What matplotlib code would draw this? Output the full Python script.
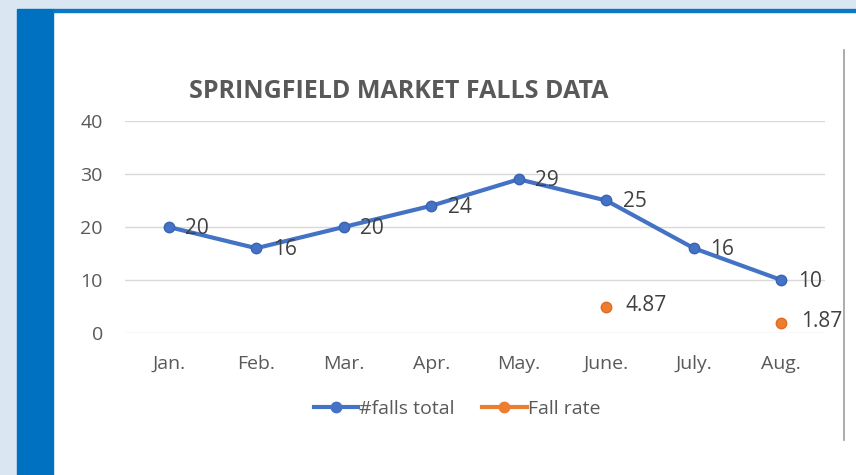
import matplotlib.pyplot as plt
from matplotlib.patches import Rectangle
from matplotlib.lines import Line2D

months = ['Jan.', 'Feb.', 'Mar.', 'Apr.', 'May.', 'June.', 'July.', 'Aug.']
falls_total = [20, 16, 20, 24, 29, 25, 16, 10]
fall_rate_months = ['June.', 'Aug.']
fall_rate = [4.87, 1.87]
y_ticks = [0, 10, 20, 30, 40]

blue = '#4472C4'
orange = '#ED7D31'
grey = '#595959'

plt.rcParams['font.family'] = ['Open Sans', 'DejaVu Sans']

W, H = 856, 475
fig = plt.figure(figsize=(W / 100, H / 100), dpi=100)
fig.patch.set_facecolor('#DAE6F1')

# slide background pieces (pixel boxes -> figure fraction)
def box(x0, y0, x1, y1, color):
    fig.add_artist(Rectangle((x0 / W, 1 - y1 / H), (x1 - x0) / W, (y1 - y0) / H,
                             transform=fig.transFigure, color=color, zorder=0))

box(53, 9, W, H, 'white')
box(17, 9, 53, H, '#0070C0')
box(53, 9, W, 11.5, '#0A78C6')
fig.add_artist(Line2D([844 / W, 844 / W], [1 - 50 / H, 1 - 440 / H],
                      transform=fig.transFigure, color='#A6A6A6', lw=1.3))

ax = fig.add_axes([125 / W, 1 - 333 / H, 700 / W, 212 / H])
ax.set_facecolor('none')

x = list(range(len(months)))
ax.plot(x, falls_total, color=blue, lw=3, marker='o', ms=7.5,
        markerfacecolor=blue, markeredgecolor='#3A64B0', label='#falls total', zorder=3)
xr = [months.index(m) for m in fall_rate_months]
ax.plot(xr, fall_rate, ls='none', marker='o', ms=7.5, color=orange,
        markeredgecolor='#E06C20', zorder=3)

for xi, v in zip(x, falls_total):
    ax.annotate(str(v), (xi, v), xytext=(12, -1), textcoords='offset points',
                va='center', ha='left', fontsize=15, color='#404040')
for xi, v in zip(xr, fall_rate):
    ax.annotate(f'{v:.2f}', (xi, v), xytext=(14, 1), textcoords='offset points',
                va='center', ha='left', fontsize=15, color='#404040')

ax.set_xlim(-0.5, len(months) - 0.5)
ax.set_ylim(0, 40)
ax.set_yticks(y_ticks)
ax.set_xticks(x)
ax.set_xticklabels(months)
ax.tick_params(axis='both', length=0, labelsize=14, labelcolor=grey)
ax.tick_params(axis='y', pad=16)
ax.tick_params(axis='x', pad=16)
ax.grid(axis='y', color='#D9D9D9', lw=1)
ax.set_axisbelow(True)
for s in ax.spines.values():
    s.set_visible(False)

fig.text(399 / W, 1 - 91 / H, 'SPRINGFIELD MARKET FALLS DATA', ha='center', va='center',
         fontsize=18, fontweight='bold', color=grey)

handles = [Line2D([], [], color=blue, lw=3, marker='o', ms=7.5),
           Line2D([], [], color=orange, lw=3, marker='o', ms=7.5)]
fig.legend(handles, ['#falls total', 'Fall rate'], loc='center',
           bbox_to_anchor=(457 / W, 1 - 409 / H), ncol=2, frameon=False,
           fontsize=14, labelcolor=grey, handlelength=2.3, handletextpad=0.05,
           columnspacing=1.4)

fig.savefig('out.png', dpi=100, facecolor=fig.get_facecolor())
